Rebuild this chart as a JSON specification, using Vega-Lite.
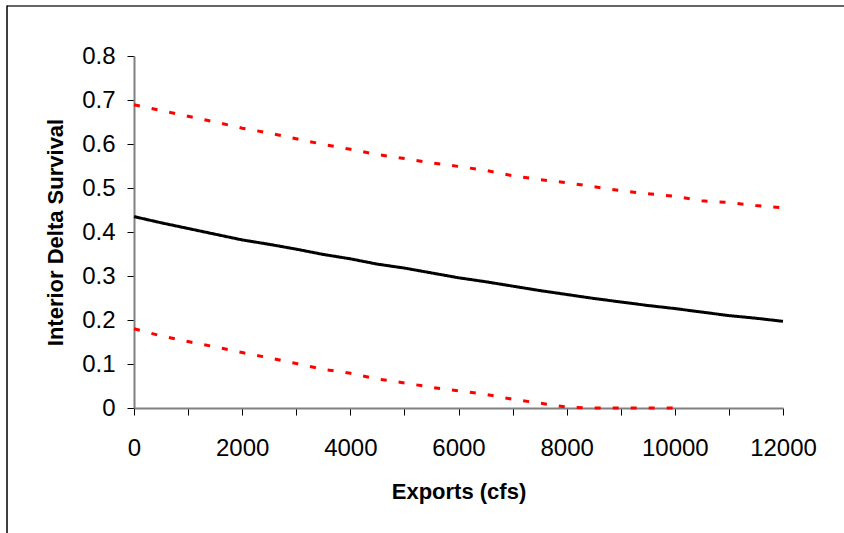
{
  "$schema": "https://vega.github.io/schema/vega-lite/v6.json",
  "width": 649,
  "height": 352,
  "autosize": {"type": "none"},
  "padding": {"left": 134, "top": 56, "right": 61, "bottom": 125},
  "background": "white",
  "config": {
    "view": {"stroke": null},
    "font": "Liberation Sans",
    "axis": {
      "domainColor": "#808080",
      "domainWidth": 2,
      "tickColor": "#000000",
      "tickWidth": 1,
      "tickSize": 7,
      "labelFont": "Liberation Sans",
      "labelFontSize": 24,
      "labelColor": "#000000",
      "titleFont": "Liberation Sans",
      "titleFontSize": 22,
      "titleFontWeight": "bold",
      "titleColor": "#000000",
      "grid": false
    }
  },
  "datasets": {
    "curves": [
      {"exports": 0, "survival": 0.435, "series": "Mean"},
      {"exports": 500, "survival": 0.421, "series": "Mean"},
      {"exports": 1000, "survival": 0.408, "series": "Mean"},
      {"exports": 1500, "survival": 0.395, "series": "Mean"},
      {"exports": 2000, "survival": 0.382, "series": "Mean"},
      {"exports": 2500, "survival": 0.372, "series": "Mean"},
      {"exports": 3000, "survival": 0.361, "series": "Mean"},
      {"exports": 3500, "survival": 0.349, "series": "Mean"},
      {"exports": 4000, "survival": 0.339, "series": "Mean"},
      {"exports": 4500, "survival": 0.327, "series": "Mean"},
      {"exports": 5000, "survival": 0.318, "series": "Mean"},
      {"exports": 5500, "survival": 0.307, "series": "Mean"},
      {"exports": 6000, "survival": 0.296, "series": "Mean"},
      {"exports": 6500, "survival": 0.287, "series": "Mean"},
      {"exports": 7000, "survival": 0.277, "series": "Mean"},
      {"exports": 7500, "survival": 0.267, "series": "Mean"},
      {"exports": 8000, "survival": 0.258, "series": "Mean"},
      {"exports": 8500, "survival": 0.249, "series": "Mean"},
      {"exports": 9000, "survival": 0.241, "series": "Mean"},
      {"exports": 9500, "survival": 0.233, "series": "Mean"},
      {"exports": 10000, "survival": 0.226, "series": "Mean"},
      {"exports": 10500, "survival": 0.218, "series": "Mean"},
      {"exports": 11000, "survival": 0.21, "series": "Mean"},
      {"exports": 11500, "survival": 0.204, "series": "Mean"},
      {"exports": 12000, "survival": 0.197, "series": "Mean"},
      {"exports": 0, "survival": 0.689, "series": "Upper"},
      {"exports": 500, "survival": 0.676, "series": "Upper"},
      {"exports": 1000, "survival": 0.663, "series": "Upper"},
      {"exports": 1500, "survival": 0.65, "series": "Upper"},
      {"exports": 2000, "survival": 0.636, "series": "Upper"},
      {"exports": 2500, "survival": 0.625, "series": "Upper"},
      {"exports": 3000, "survival": 0.612, "series": "Upper"},
      {"exports": 3500, "survival": 0.599, "series": "Upper"},
      {"exports": 4000, "survival": 0.588, "series": "Upper"},
      {"exports": 4500, "survival": 0.576, "series": "Upper"},
      {"exports": 5000, "survival": 0.567, "series": "Upper"},
      {"exports": 5500, "survival": 0.557, "series": "Upper"},
      {"exports": 6000, "survival": 0.549, "series": "Upper"},
      {"exports": 6500, "survival": 0.54, "series": "Upper"},
      {"exports": 7000, "survival": 0.528, "series": "Upper"},
      {"exports": 7500, "survival": 0.519, "series": "Upper"},
      {"exports": 8000, "survival": 0.512, "series": "Upper"},
      {"exports": 8500, "survival": 0.503, "series": "Upper"},
      {"exports": 9000, "survival": 0.494, "series": "Upper"},
      {"exports": 9500, "survival": 0.487, "series": "Upper"},
      {"exports": 10000, "survival": 0.481, "series": "Upper"},
      {"exports": 10500, "survival": 0.471, "series": "Upper"},
      {"exports": 11000, "survival": 0.467, "series": "Upper"},
      {"exports": 11500, "survival": 0.46, "series": "Upper"},
      {"exports": 12000, "survival": 0.455, "series": "Upper"},
      {"exports": 0, "survival": 0.18, "series": "Lower"},
      {"exports": 500, "survival": 0.164, "series": "Lower"},
      {"exports": 1000, "survival": 0.151, "series": "Lower"},
      {"exports": 1500, "survival": 0.139, "series": "Lower"},
      {"exports": 2000, "survival": 0.126, "series": "Lower"},
      {"exports": 2500, "survival": 0.114, "series": "Lower"},
      {"exports": 3000, "survival": 0.101, "series": "Lower"},
      {"exports": 3500, "survival": 0.088, "series": "Lower"},
      {"exports": 4000, "survival": 0.079, "series": "Lower"},
      {"exports": 4500, "survival": 0.066, "series": "Lower"},
      {"exports": 5000, "survival": 0.057, "series": "Lower"},
      {"exports": 5500, "survival": 0.047, "series": "Lower"},
      {"exports": 6000, "survival": 0.039, "series": "Lower"},
      {"exports": 6500, "survival": 0.031, "series": "Lower"},
      {"exports": 7000, "survival": 0.02, "series": "Lower"},
      {"exports": 7500, "survival": 0.011, "series": "Lower"},
      {"exports": 8000, "survival": 0.002, "series": "Lower"},
      {"exports": 8500, "survival": 0, "series": "Lower"},
      {"exports": 9000, "survival": 0, "series": "Lower"},
      {"exports": 9500, "survival": 0, "series": "Lower"},
      {"exports": 10000, "survival": 0, "series": "Lower"}
    ],
    "frameLeft": [{"x": -2348, "y1": -0.3, "y2": 0.915}],
    "frameTop": [{"x1": -2348, "x2": 13500, "y": 0.9136}]
  },
  "layer": [
    {
      "data": {"name": "curves"},
      "mark": {"type": "line", "strokeWidth": 3, "clip": false},
      "encoding": {
        "x": {
          "field": "exports",
          "type": "quantitative",
          "title": "Exports (cfs)",
          "scale": {"domain": [0, 12000], "nice": false, "zero": false},
          "axis": {
            "values": [0, 500, 1000, 1500, 2000, 2500, 3000, 3500, 4000, 4500, 5000, 5500, 6000, 6500, 7000, 7500, 8000, 8500, 9000, 9500, 10000, 10500, 11000, 11500, 12000],
            "format": "d",
            "labelExpr": "datum.value % 2000 == 0 ? datum.label : ''",
            "labelPadding": 21,
            "titlePadding": 21,
            "labelFlush": false,
            "labelOverlap": false
          }
        },
        "y": {
          "field": "survival",
          "type": "quantitative",
          "title": "Interior Delta Survival",
          "scale": {"domain": [0, 0.8], "nice": false},
          "axis": {
            "values": [0, 0.05, 0.1, 0.15, 0.2, 0.25, 0.3, 0.35, 0.4, 0.45, 0.5, 0.55, 0.6, 0.65, 0.7, 0.75, 0.8],
            "format": ".1~f",
            "labelExpr": "round(datum.value * 20) % 2 == 1 ? '' : datum.label",
            "labelPadding": 12,
            "titlePadding": 14,
            "labelFlush": false,
            "labelOverlap": false
          }
        },
        "detail": {"field": "series"},
        "color": {
          "field": "series",
          "type": "nominal",
          "scale": {"domain": ["Mean", "Upper", "Lower"], "range": ["#000000", "#FF0000", "#FF0000"]},
          "legend": null
        },
        "strokeDash": {
          "field": "series",
          "type": "nominal",
          "scale": {"domain": ["Mean", "Upper", "Lower"], "range": [[1, 0], [6, 12], [6, 12]]},
          "legend": null
        }
      }
    },
    {
      "data": {"name": "frameTop"},
      "mark": {"type": "rule", "color": "#666666", "strokeWidth": 2, "clip": false},
      "encoding": {
        "x": {"field": "x1", "type": "quantitative", "title": "Exports (cfs)"},
        "x2": {"field": "x2"},
        "y": {"field": "y", "type": "quantitative", "title": "Interior Delta Survival"}
      }
    },
    {
      "data": {"name": "frameLeft"},
      "mark": {"type": "rule", "color": "#000000", "strokeWidth": 1.5, "clip": false},
      "encoding": {
        "x": {"field": "x", "type": "quantitative", "title": "Exports (cfs)"},
        "y": {"field": "y1", "type": "quantitative", "title": "Interior Delta Survival"},
        "y2": {"field": "y2"}
      }
    }
  ]
}
